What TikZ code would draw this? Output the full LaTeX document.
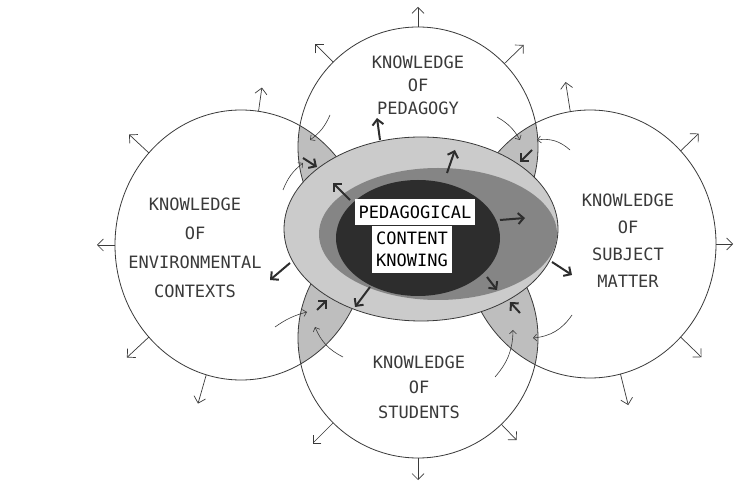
\documentclass[tikz,border=0pt]{standalone}
\usepackage{fontspec}
\newfontfamily\plotfont{DejaVu Sans Mono}
\usetikzlibrary{arrows.meta,calc}

\definecolor{ink}{HTML}{3A3A3A}
\definecolor{lensgray}{HTML}{BEBEBE}
\definecolor{ringgray}{HTML}{CBCBCB}
\definecolor{midgray}{HTML}{858585}
\definecolor{coregray}{HTML}{2D2D2D}

\tikzset{
  ring/.style={draw=ink, line width=0.8pt},
  lbl/.style={font=\plotfont\fontsize{17}{#1}\selectfont, text=ink, align=center, inner sep=0pt},
  outarrow/.style={draw=ink, line width=0.7pt, -{Straight Barb[length=6pt,width=12pt]}},
  thrust/.style={draw=coregray, line width=2pt, -{Straight Barb[length=5.5pt,width=11pt]}},
  feed/.style={draw=ink, line width=0.6pt, -{Straight Barb[length=3.5pt,width=7pt]}}
}

\begin{document}
\begin{tikzpicture}[x=1pt,y=1pt]
    \useasboundingbox (0,0) rectangle (755,482);
    \fill[white] (0,0) rectangle (755,482);

    % centres of the four knowledge circles
    \coordinate (T) at (418,335);
    \coordinate (B) at (418,144);
    \coordinate (L) at (241,237);
    \coordinate (R) at (590,238);

    % shaded overlaps
    \begin{scope}
        \clip (T) circle (120);
        \fill[lensgray] (L) ellipse [x radius=126, y radius=135];
        \fill[lensgray] (R) ellipse [x radius=126, y radius=134];
    \end{scope}
    \begin{scope}
        \clip (B) circle (120);
        \fill[lensgray] (L) ellipse [x radius=126, y radius=135];
        \fill[lensgray] (R) ellipse [x radius=126, y radius=134];
    \end{scope}

    \draw[ring] (T) circle (120);
    \draw[ring] (B) circle (120);
    \draw[ring] (L) ellipse [x radius=126, y radius=135];
    \draw[ring] (R) ellipse [x radius=126, y radius=134];

    % outward arrows
    \foreach \a/\l in {90/20, 135/25, 44/27}
        \draw[outarrow] ($(T)+(\a:120)$) -- ($(T)+(\a:{120+\l})$);
    \foreach \a/\l in {82/24, 137/27, 180/18, 223/30, 254/30}
        \draw[outarrow] ($(L)+(\a:126 and 135)$) -- ($(L)+(\a:{126+\l} and {135+\l})$);
    \foreach \a/\l in {99/30, 44/25, 0/17, -44/29, -76/32}
        \draw[outarrow] ($(R)+(\a:126 and 134)$) -- ($(R)+(\a:{126+\l} and {134+\l})$);
    \foreach \a/\l in {270/22, 225/29, -46/22}
        \draw[outarrow] ($(B)+(\a:120)$) -- ($(B)+(\a:{120+\l})$);

    % pedagogical content knowing
    \draw[ring, fill=ringgray] (421,253) ellipse [x radius=137, y radius=92];
    \fill[midgray] (438,248) ellipse [x radius=119, y radius=66];
    \fill[coregray] (418,244) ellipse [x radius=82, y radius=58];

    \node[lbl=22, fill=white, text=black, inner xsep=4pt, inner ysep=7pt] (pck1) at (415,270) {PEDAGOGICAL};
    \node[lbl=22, fill=white, text=black, inner xsep=4pt, inner ysep=6pt, anchor=north] (pck2) at ($(pck1.south)+(-3,0)$) {CONTENT\\KNOWING};

    \node[lbl=23] (kp) at (418,397) {KNOWLEDGE\\OF\\PEDAGOGY};
    \node[lbl=29] (ke) at (195,234) {KNOWLEDGE\\OF\\ENVIRONMENTAL\\CONTEXTS};
    \node[lbl=27] (ks) at (628,241) {KNOWLEDGE\\OF\\SUBJECT\\MATTER};
    \node[lbl=25] (kst) at (419,95) {KNOWLEDGE\\OF\\STUDENTS};

    % bold arrows out of the centre
    \draw[thrust] (447,309) -- (455,332);
    \draw[thrust] (350,282) -- (333,299);
    \draw[thrust] (500,262) -- (525,264);
    \draw[thrust] (552,220) -- (572,207);
    \draw[thrust] (487,205) -- (497,192);
    \draw[thrust] (370,195) -- (355,175);
    \draw[thrust] (290,219) -- (270,202);
    \draw[thrust] (380,342) -- (377,364);
    % bold arrows into the centre
    \draw[thrust] (303,324) -- (317,315);
    \draw[thrust] (532,332) -- (520,320);
    \draw[thrust] (317,172) -- (327,182);
    \draw[thrust] (520,169) -- (510,180);

    % thin feeds into the overlaps
    \draw[feed] (330,367) to[bend left=15] (310,342);
    \draw[feed] (283,292) to[bend left=15] (303,319);
    \draw[feed] (497,365) to[bend left=15] (520,342);
    \draw[feed] (570,332) to[bend right=25] (537,342);
    \draw[feed] (275,155) to[bend left=10] (307,170);
    \draw[feed] (343,125) to[bend left=20] (315,155);
    \draw[feed] (572,167) to[bend left=25] (533,144);
    \draw[feed] (495,105) to[bend right=20] (513,152);
\end{tikzpicture}
\end{document}
